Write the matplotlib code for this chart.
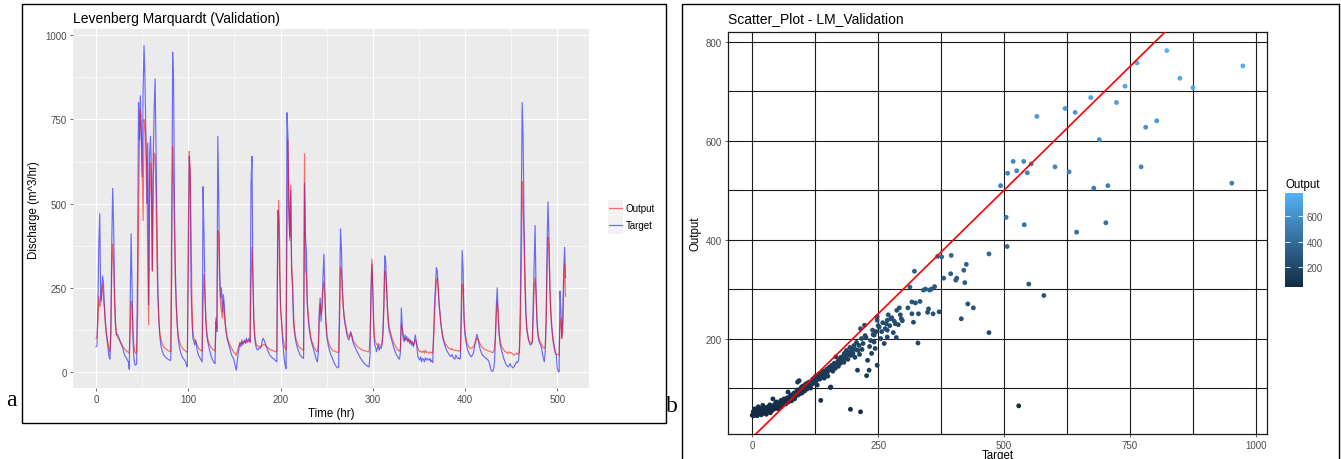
import numpy as np
import matplotlib
matplotlib.use('Agg')
import matplotlib.pyplot as plt
from matplotlib.colors import LinearSegmentedColormap, Normalize
from matplotlib.patches import Rectangle
from matplotlib.lines import Line2D

plt.rcParams['font.family'] = ['Liberation Sans', 'DejaVu Sans']

# ---------------- data: panel a (hourly discharge, m^3/hr) ----------------
target_discharge = [
    75, 78, 200, 385, 470, 210, 240, 285, 265, 200,
    150, 115, 95, 70, 45, 38, 120, 380, 545, 440,
    250, 140, 110, 112, 108, 100, 92, 85, 78, 70,
    60, 50, 45, 40, 35, 30, 8, 200, 410, 250,
    100, 40, 22, 20, 25, 300, 800, 690, 820, 700,
    580, 840, 970, 870, 700, 500, 680, 200, 640, 700,
    600, 300, 640, 780, 870, 650, 450, 250, 160, 110,
    85, 70, 60, 52, 48, 45, 42, 40, 38, 36,
    35, 34, 300, 950, 870, 500, 300, 200, 140, 100,
    80, 65, 55, 48, 42, 38, 35, 30, 20, 15,
    400, 640, 580, 250, 150, 100, 90, 80, 95, 75,
    60, 50, 45, 40, 35, 30, 550, 410, 250, 150,
    110, 90, 80, 65, 55, 45, 38, 32, 28, 25,
    160, 120, 700, 520, 300, 220, 250, 180, 230, 200,
    150, 120, 100, 90, 80, 70, 60, 50, 45, 40,
    30, 15, 5, 30, 55, 70, 85, 75, 95, 80,
    90, 95, 85, 100, 90, 95, 100, 90, 560, 640,
    300, 150, 100, 80, 70, 65, 68, 72, 70, 75,
    90, 100, 95, 88, 80, 72, 65, 58, 52, 48,
    45, 42, 40, 38, 35, 33, 30, 480, 460, 300,
    200, 160, 100, 70, 40, 20, 10, 770, 700, 480,
    400, 540, 300, 250, 150, 120, 100, 85, 75, 65,
    58, 52, 48, 44, 42, 40, 560, 400, 360, 200,
    160, 130, 110, 95, 85, 75, 65, 55, 45, 35,
    30, 60, 180, 220, 150, 200, 280, 350, 250, 150,
    110, 90, 75, 65, 55, 48, 42, 35, 28, 22,
    18, 15, 12, 15, 200, 425, 370, 250, 200, 160,
    140, 125, 110, 100, 95, 105, 120, 110, 95, 85,
    78, 72, 66, 60, 55, 50, 45, 40, 36, 32,
    28, 25, 22, 20, 18, 16, 15, 50, 240, 320,
    250, 120, 80, 75, 60, 70, 80, 65, 75, 70,
    80, 120, 200, 345, 330, 250, 180, 140, 120, 110,
    100, 90, 80, 70, 62, 55, 50, 45, 40, 38,
    60, 190, 130, 100, 90, 110, 95, 105, 90, 100,
    85, 95, 80, 90, 75, 85, 110, 95, 70, 45,
    40, 35, 45, 30, 40, 38, 30, 42, 35, 40,
    38, 35, 40, 30, 35, 28, 110, 200, 260, 310,
    300, 240, 200, 170, 140, 120, 100, 90, 80, 72,
    65, 60, 55, 50, 48, 46, 52, 45, 40, 38,
    50, 45, 40, 42, 38, 40, 200, 360, 300, 150,
    110, 90, 75, 65, 58, 52, 48, 45, 50, 55,
    70, 85, 100, 112, 100, 85, 72, 62, 55, 50,
    48, 45, 42, 40, 38, 35, 30, 20, 8, 2,
    2, 8, 30, 110, 200, 250, 160, 110, 85, 70,
    60, 50, 40, 32, 25, 20, 18, 15, 20, 25,
    18, 15, 12, 15, 20, 25, 30, 28, 35, 60,
    200, 480, 800, 700, 450, 300, 180, 130, 110, 95,
    85, 80, 82, 90, 200, 320, 435, 250, 150, 110,
    95, 85, 80, 70, 55, 40, 30, 60, 160, 380,
    505, 400, 250, 180, 140, 110, 90, 75, 60, 50,
    10, 3, 0, 240, 180, 100, 160, 300, 370, 280,
]

output_discharge = [
    100, 104, 150, 225, 195, 200, 230, 260, 215, 190,
    150, 120, 100, 85, 70, 60, 110, 300, 380, 320,
    200, 150, 115, 105, 100, 95, 90, 85, 80, 76,
    72, 68, 65, 62, 60, 58, 56, 120, 210, 200,
    120, 80, 60, 55, 60, 170, 450, 680, 780, 720,
    600, 450, 750, 730, 690, 600, 350, 140, 500, 620,
    520, 300, 580, 650, 640, 520, 330, 220, 160, 120,
    100, 90, 82, 76, 72, 70, 68, 66, 64, 62,
    61, 60, 490, 670, 560, 400, 260, 190, 140, 110,
    95, 85, 78, 74, 70, 67, 64, 62, 60, 58,
    300, 655, 600, 420, 200, 120, 100, 95, 90, 85,
    78, 72, 68, 65, 63, 62, 200, 290, 230, 160,
    120, 100, 90, 82, 76, 72, 68, 66, 64, 62,
    150, 130, 420, 400, 260, 200, 180, 160, 210, 170,
    140, 120, 105, 95, 88, 80, 75, 70, 65, 60,
    57, 54, 50, 60, 70, 80, 88, 82, 90, 85,
    88, 90, 85, 92, 88, 90, 95, 88, 250, 370,
    280, 160, 110, 90, 80, 78, 76, 76, 75, 75,
    78, 80, 82, 80, 78, 75, 72, 70, 68, 66,
    65, 64, 63, 62, 61, 60, 60, 380, 510, 390,
    180, 150, 120, 95, 80, 70, 65, 400, 690, 500,
    390, 555, 320, 270, 180, 130, 110, 95, 88, 80,
    75, 72, 70, 68, 66, 65, 648, 300, 290, 210,
    170, 140, 120, 100, 90, 82, 76, 70, 66, 62,
    60, 80, 160, 200, 170, 190, 240, 270, 230, 160,
    120, 100, 88, 80, 74, 70, 66, 63, 62, 61,
    60, 59, 58, 58, 150, 310, 300, 240, 190, 165,
    150, 135, 120, 110, 105, 105, 115, 110, 100, 92,
    88, 84, 80, 77, 74, 72, 70, 68, 66, 65,
    64, 63, 62, 62, 61, 60, 60, 100, 190, 335,
    260, 150, 100, 90, 82, 80, 85, 80, 78, 80,
    85, 110, 180, 300, 290, 250, 190, 150, 130, 120,
    110, 100, 92, 85, 80, 75, 70, 66, 63, 62,
    70, 140, 130, 110, 100, 95, 100, 95, 92, 95,
    90, 92, 85, 88, 80, 85, 95, 90, 80, 70,
    65, 60, 62, 58, 60, 62, 56, 65, 58, 60,
    58, 56, 60, 57, 58, 56, 100, 160, 230, 270,
    280, 250, 200, 170, 140, 120, 105, 95, 88, 82,
    78, 75, 72, 70, 68, 66, 70, 66, 65, 64,
    65, 64, 62, 63, 62, 62, 150, 260, 250, 160,
    120, 100, 88, 80, 75, 72, 70, 70, 72, 74,
    80, 88, 95, 100, 98, 92, 85, 80, 76, 72,
    70, 68, 66, 65, 64, 63, 62, 61, 60, 58,
    58, 60, 70, 100, 170, 210, 180, 120, 95, 82,
    75, 70, 66, 62, 60, 58, 57, 55, 60, 56,
    58, 55, 52, 50, 52, 54, 56, 52, 55, 65,
    130, 300, 565, 500, 380, 250, 170, 130, 110, 95,
    90, 86, 85, 88, 170, 250, 280, 230, 160, 120,
    100, 92, 88, 82, 76, 72, 70, 75, 150, 300,
    400, 380, 260, 180, 130, 100, 80, 65, 55, 52,
    52, 52, 50, 130, 160, 100, 120, 250, 320, 225,
]

series_labels = ['Output', 'Target']
series_colors = ['red', 'blue']

# ---------------- data: panel b (scatter, Target vs Output) ----------------
scatter_target = [
    0, 2, 3, 5, 6, 8, 10, 11, 12, 14, 15, 17, 18, 20, 21, 22, 24, 25, 27, 28, 30,
    31, 32, 34, 35, 36, 38, 40, 41, 42, 44, 45, 47, 48, 50, 51, 53, 54, 56, 57, 59, 60,
    61, 63, 64, 66, 67, 69, 70, 71, 72, 74, 75, 77, 78, 80, 81, 83, 84, 86, 87, 89, 90,
    91, 92, 93, 94, 95, 96, 98, 99, 100, 101, 103, 104, 106, 107, 109, 110, 112, 113, 115, 116, 118, 119, 120,
    122, 123, 125, 126, 128, 129, 131, 132, 134, 135, 136, 137, 139, 140, 142, 143, 145, 146, 148, 149, 150,
    152, 153, 155, 156, 157, 158, 160, 161, 163, 165, 166, 168, 170, 171, 173, 175, 176, 178, 180,
    182, 183, 185, 187, 188, 190, 192, 194, 195, 196, 198, 200, 202, 204, 205, 207, 209, 210,
    212, 213, 215, 215, 217, 218, 220, 223, 224, 226, 227, 229, 232, 233, 235, 237, 239, 240, 242, 242, 244, 246, 248, 248, 248, 250,
    252, 255, 257, 259, 262, 264, 266, 268, 268, 268, 270, 273, 275, 277, 280, 282, 284, 286, 287, 290, 292, 294, 296, 298,
    309, 313, 317, 317, 320, 322, 324, 329, 330, 333, 340, 344, 348, 350, 352, 356, 359, 362, 368, 371, 376, 380, 394, 395, 404, 406, 415, 420, 422, 425, 428, 439, 470, 470,
    493, 504, 506, 507, 518, 525, 529, 539, 540, 546, 549, 554, 565, 579, 601, 621, 629, 641, 644, 672, 678, 689, 702, 706, 723, 740, 764, 772, 781, 803, 823, 849, 875, 952, 974,
]
scatter_output = [
    45, 52, 44, 58, 47, 50, 44, 55, 62, 48, 53, 58, 46, 50, 65, 56, 49, 60, 53, 47, 58,
    62, 52, 56, 66, 50, 60, 55, 78, 63, 58, 68, 61, 72, 64, 58, 70, 66, 62, 75, 68, 72,
    66, 78, 70, 74, 68, 80, 76, 92, 72, 82, 78, 86, 74, 84, 80, 90, 78, 88, 84, 96, 112,
    86, 92, 115, 88, 98, 94, 102, 90, 96, 104, 100, 94, 108, 102, 98, 110, 104, 112, 106, 100, 114, 108, 118,
    112, 120, 110, 124, 116, 106, 122, 128, 118, 126, 75, 130, 122, 128, 134, 120, 130, 126, 138, 132, 124,
    136, 142, 101, 102, 138, 146, 134, 144, 150, 140, 163, 148, 154, 144, 158, 150, 162, 156, 164,
    152, 170, 160, 176, 166, 158, 172, 182, 57, 166, 178, 170, 186, 162, 178, 192, 136, 176,
    186, 168, 52, 220, 200, 178, 190, 227, 206, 202, 125, 156, 136, 184, 196, 170, 217, 208, 193, 207, 180, 214, 146, 244, 237, 226,
    223, 200, 214, 232, 190, 220, 230, 237, 217, 203, 248, 226, 240, 242, 212, 235, 230, 202, 257, 228, 262, 248, 240, 236,
    262, 304, 274, 250, 233, 336, 272, 191, 250, 275, 298, 300, 253, 260, 298, 300, 250, 305, 366, 254, 365, 322, 331, 368, 318, 322, 240, 338, 313, 350, 270, 262, 371, 212,
    509, 445, 386, 534, 558, 539, 64, 558, 430, 535, 310, 553, 649, 287, 547, 665, 537, 657, 415, 687, 504, 602, 434, 509, 677, 710, 757, 547, 627, 640, 782, 726, 707, 514, 751,
]
colorbar_ticks = [200, 400, 600]

assert len(target_discharge) == len(output_discharge)
assert len(scatter_target) == len(scatter_output), (len(scatter_target), len(scatter_output))

# ---------------- layout helpers (pixel -> figure fraction) ----------------
W, H = 1341, 460
fig = plt.figure(figsize=(W / 100, H / 100), dpi=100)
fig.patch.set_facecolor('white')


def fx(px):
    return px / W


def fy(py):
    return 1 - py / H


def expand(lo, hi, f=0.05):
    r = hi - lo
    return lo - f * r, hi + f * r


TICK_GRAY = '#4D4D4D'
TICK_SIZE = 7.0
AXIS_TITLE = 8.3
PLOT_TITLE = 10.0

# ---------------- panel a ----------------
ax1 = fig.add_axes([fx(72.6), fy(389.3), (589 - 72.6) / W, (389.3 - 30) / H])
ax1.set_facecolor('#EBEBEB')
time = np.arange(len(target_discharge))
ax1.plot(time, target_discharge, color=series_colors[1], alpha=0.55, lw=0.85, zorder=3)
ax1.plot(time, output_discharge, color=series_colors[0], alpha=0.55, lw=0.85, zorder=4)
ax1.set_xlim(*expand(time.min(), time.max()))
allv = target_discharge + output_discharge
ax1.set_ylim(*expand(min(allv), max(allv)))
ax1.set_xticks([0, 100, 200, 300, 400, 500])
ax1.set_xticks([50, 150, 250, 350, 450], minor=True)
ax1.set_yticks([0, 250, 500, 750, 1000])
ax1.set_yticks([125, 375, 625, 875], minor=True)
ax1.grid(which='major', color='white', lw=0.8, zorder=0)
ax1.grid(which='minor', color='white', lw=0.4, zorder=0)
ax1.set_axisbelow(True)
for s in ax1.spines.values():
    s.set_visible(False)
ax1.tick_params(which='major', length=2.2, width=0.5, color='#333333',
                labelsize=TICK_SIZE, labelcolor=TICK_GRAY, pad=2.0)
ax1.tick_params(which='minor', length=0)
ax1.set_xlabel('Time (hr)', fontsize=AXIS_TITLE, labelpad=2.0)
ax1.set_ylabel('Discharge (m^3/hr)', fontsize=AXIS_TITLE, labelpad=3.5)

fig.text(fx(72.6), fy(22.7), 'Levenberg Marquardt (Validation)', fontsize=PLOT_TITLE,
         ha='left', va='baseline')

# legend (manual, ggplot style)
for i, (lab, col) in enumerate(zip(series_labels, series_colors)):
    top = 200.5 + i * 17
    fig.add_artist(Rectangle((fx(607.5), fy(top + 17)), 15.5 / W, 17 / H,
                             transform=fig.transFigure, facecolor='#F2F2F2',
                             edgecolor='none'))
    yc = top + 8.5
    fig.add_artist(Line2D([fx(609), fx(621.5)], [fy(yc), fy(yc)], color=col,
                          alpha=0.55, lw=0.9, transform=fig.transFigure))
    fig.text(fx(626), fy(yc), lab, fontsize=TICK_SIZE, ha='left', va='center')

# ---------------- panel b ----------------
ax2 = fig.add_axes([fx(727.7), fy(435), (1267.4 - 727.7) / W, (435 - 33.3) / H])
ax2.set_facecolor('white')
cmap = LinearSegmentedColormap.from_list('gg', ['#132B43', '#56B1F7'])
norm = Normalize(vmin=min(scatter_output), vmax=max(scatter_output))
sc = ax2.scatter(scatter_target, scatter_output, c=scatter_output, cmap=cmap,
                 norm=norm, s=12, linewidths=0, zorder=3)
ax2.set_xlim(*expand(min(scatter_target), max(scatter_target)))
ax2.set_ylim(*expand(min(scatter_output), max(scatter_output)))
ax2.axline((0, 0), slope=1, color='red', lw=1.2, zorder=4)
ax2.set_xticks([0, 250, 500, 750, 1000])
ax2.set_xticks([125, 375, 625, 875], minor=True)
ax2.set_yticks([200, 400, 600, 800])
ax2.set_yticks([100, 300, 500, 700], minor=True)
ax2.grid(which='major', color='#1a1a1a', lw=0.8, zorder=1)
ax2.grid(which='minor', color='#1a1a1a', lw=0.8, zorder=1)
ax2.set_axisbelow(True)
for s in ax2.spines.values():
    s.set_color('#1a1a1a')
    s.set_linewidth(0.9)
ax2.tick_params(which='major', length=2.2, width=0.5, color='#1a1a1a',
                labelsize=TICK_SIZE, labelcolor=TICK_GRAY, pad=2.0)
ax2.tick_params(which='minor', length=0)
ax2.set_ylabel('Output', fontsize=AXIS_TITLE, labelpad=3)
# x-axis title sits at the very bottom edge of the image, as in the reference
fig.text(fx(997.5), fy(459.3), 'Target', fontsize=AXIS_TITLE, ha='center',
         va='baseline')

fig.text(fx(727.7), fy(23.5), 'Scatter_Plot - LM_Validation', fontsize=PLOT_TITLE,
         ha='left', va='baseline')

# colorbar
cax = fig.add_axes([fx(1285.4), fy(288), 17.9 / W, 94 / H])
cb = fig.colorbar(sc, cax=cax, ticks=colorbar_ticks)
cb.outline.set_visible(False)
cax.tick_params(direction='in', length=3.5, width=0.6, color='white',
                left=True, right=True, labelsize=TICK_SIZE, labelcolor=TICK_GRAY,
                pad=2.5)
fig.text(fx(1285.4), fy(185), 'Output', fontsize=AXIS_TITLE, ha='left', va='center')

# ---------------- outer boxes and panel letters ----------------
fig.add_artist(Rectangle((fx(22), fy(424)), (665.8 - 22) / W, (424 - 5) / H,
                         transform=fig.transFigure, fill=False,
                         edgecolor='black', lw=1.0))
fig.add_artist(Rectangle((fx(682), fy(480)), (1338.6 - 682) / W, (480 - 5) / H,
                         transform=fig.transFigure, fill=False,
                         edgecolor='black', lw=1.0))
fig.text(fx(6), fy(406), 'a', family=['Liberation Serif', 'DejaVu Serif'],
         fontsize=17, ha='left', va='baseline')
fig.text(fx(666), fy(412), 'b', family=['Liberation Serif', 'DejaVu Serif'],
         fontsize=17, ha='left', va='baseline')

fig.savefig('out.png', dpi=100)
